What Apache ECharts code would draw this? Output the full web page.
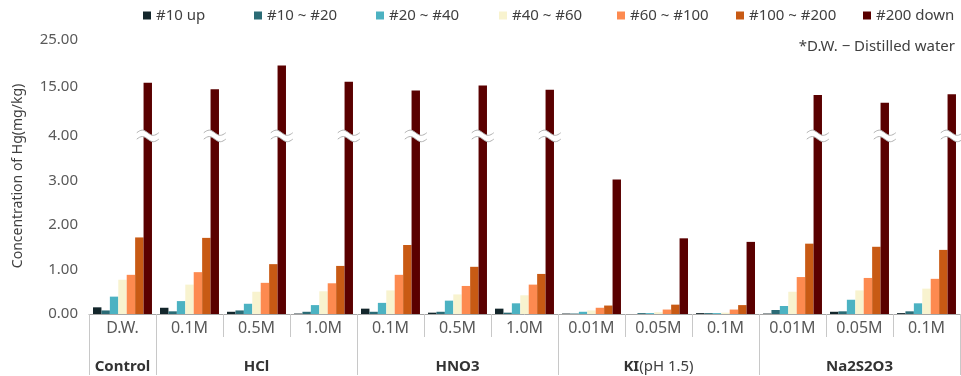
<!DOCTYPE html>
<html><head><meta charset="utf-8">
<script src="https://cdn.jsdelivr.net/npm/echarts@6/dist/echarts.min.js"></script>
<style>html,body{margin:0;padding:0;background:#fff}#c{width:961px;height:376px}</style>
</head><body><div id="c"></div>
<script>
// ---- data ----
const seriesNames = ['#10 up', '#10 ~ #20', '#20 ~ #40', '#40 ~ #60', '#60 ~ #100', '#100 ~ #200', '#200 down'];
const groups = ['Control', 'HCl', 'HNO3', 'KI(pH 1.5)', 'Na2S2O3'];
const groupSizes = [1, 3, 3, 3, 3];
const subLabels = ['D.W.', '0.1M', '0.5M', '1.0M', '0.1M', '0.5M', '1.0M', '0.01M', '0.05M', '0.1M', '0.01M', '0.05M', '0.1M'];
const up10    = [0.15, 0.14, 0.05, 0.01, 0.12, 0.03, 0.12, 0.01, 0.00, 0.02, 0.01, 0.05, 0.02];
const r10_20  = [0.08, 0.06, 0.08, 0.05, 0.05, 0.05, 0.03, 0.01, 0.02, 0.02, 0.09, 0.06, 0.06];
const r20_40  = [0.39, 0.29, 0.23, 0.20, 0.25, 0.30, 0.24, 0.05, 0.02, 0.02, 0.18, 0.32, 0.24];
const r40_60  = [0.77, 0.66, 0.50, 0.51, 0.53, 0.44, 0.42, 0.08, 0.04, 0.03, 0.50, 0.53, 0.57];
const r60_100 = [0.88, 0.94, 0.70, 0.69, 0.88, 0.63, 0.66, 0.14, 0.10, 0.10, 0.83, 0.81, 0.79];
const r100_200= [1.72, 1.71, 1.12, 1.08, 1.55, 1.06, 0.90, 0.19, 0.21, 0.20, 1.58, 1.51, 1.44];
const down200 = [15.8, 14.4, 19.5, 16.0, 14.1, 15.2, 14.3, 3.02, 1.70, 1.62, 13.1, 11.4, 13.3];
const yTicks = [0, 1, 2, 3, 4, 15, 25];

// ---- styles / layout ----
const colors = ['#13262b', '#2b6b75', '#4cb2c2', '#f8f3cf', '#fd8a50', '#c85a14', '#5a0000'];
const legendLefts = [143, 254, 376, 499, 617, 736, 863];
const FONT = 'Noto Sans';
const allSeries = [up10, r10_20, r20_40, r40_60, r60_100, r100_200, down200];

// broken axis: 0-4 linear, 4-15 compressed, 15-25 compressed
const D15 = 5.11, D25 = 6.16;
function toDisplay(v) {
  if (v <= 4) return v;
  if (v < 15) return 4 + (v - 4) / 11 * (D15 - 4);
  return D15 + (v - 15) / 10 * (D25 - D15);
}
const catKeys = subLabels.map((s, i) => i + ':' + s);
const groupStart = [], groupMid = {};
let acc = 0;
groupSizes.forEach((n, g) => { groupStart.push(acc); groupMid[acc + Math.floor(n / 2)] = groups[g]; acc += n; });

const chart = echarts.init(document.getElementById('c'), null, {renderer: 'canvas'});
const CAT_GAP = 0.12;

const barSeries = allSeries.map((arr, k) => ({
  name: seriesNames[k], type: 'bar', xAxisIndex: 0,
  data: arr.map(toDisplay),
  barGap: '0%', barCategoryGap: (CAT_GAP * 100) + '%',
  itemStyle: {color: colors[k]},
  emphasis: {disabled: true}
}));

const breakSeries = {
  type: 'custom', xAxisIndex: 0, z: 10, silent: true,
  data: down200.map((v, i) => [i, v]),
  renderItem: function (params, api) {
    const v = api.value(1);
    if (v <= 4) return null;
    const c = api.coord([api.value(0), 4]);
    const band = api.size([1, 0])[0];
    const bw = band * (1 - CAT_GAP) / 7;
    const cx = c[0] + 3 * bw;
    const cy = c[1];
    const hw = 11, A = 2.6, off = 3.2, N = 16;
    const top = [], bot = [];
    for (let j = 0; j <= N; j++) {
      const t = j / N;
      const x = cx - hw + 2 * hw * t;
      const dy = -A * Math.sin(2 * Math.PI * t);
      top.push([x, cy - off + dy]);
      bot.push([x, cy + off + dy]);
    }
    return {
      type: 'group',
      children: [
        {type: 'polygon', shape: {points: top.concat(bot.slice().reverse())}, style: {fill: '#ffffff'}},
        {type: 'polyline', shape: {points: top}, style: {stroke: '#b0b0b0', lineWidth: 1, fill: null}},
        {type: 'polyline', shape: {points: bot}, style: {stroke: '#b0b0b0', lineWidth: 1, fill: null}}
      ]
    };
  }
};

const option = {
  animation: false,
  textStyle: {fontFamily: FONT},
  title: {
    text: '*D.W. \u2212 Distilled water', right: 6, top: 39, padding: 0,
    textStyle: {fontSize: 15, fontWeight: 'normal', color: '#404040', fontFamily: FONT}
  },
  legend: seriesNames.map((n, k) => ({
    data: [n], left: legendLefts[k], top: 8, padding: 0,
    itemWidth: 8, itemHeight: 8, icon: 'rect', selectedMode: false,
    textStyle: {fontSize: 15, color: '#404040', fontFamily: FONT}
  })),
  grid: {left: 89, right: 1, top: 38, bottom: 62},
  xAxis: [
    {
      type: 'category', data: catKeys, position: 'bottom',
      axisLine: {show: true, lineStyle: {color: '#a6a6a6', width: 1}},
      axisTick: {show: true, length: 23, lineStyle: {color: '#c8c8c8', width: 1}},
      axisLabel: {show: true, interval: 0, formatter: (v, i) => subLabels[i], color: '#595959', fontSize: 16, margin: 6, fontFamily: FONT}
    },
    {
      type: 'category', data: catKeys, position: 'bottom',
      axisLine: {show: false},
      axisTick: {show: true, length: 61, interval: (i) => groupStart.indexOf(i) >= 0, lineStyle: {color: '#c8c8c8', width: 1}},
      axisLabel: {
        show: true, interval: 0, margin: 45, fontFamily: FONT,
        formatter: (v, i) => {
          const g = groupMid[i];
          if (!g) return '';
          const m = g.match(/^([^(]+)(\(.*\))$/);
          return m ? '{b|' + m[1] + '}{n|' + m[2] + '}' : '{b|' + g + '}';
        },
        rich: {
          b: {fontSize: 15, fontWeight: 'bold', color: '#333333', fontFamily: FONT},
          n: {fontSize: 15, color: '#404040', fontFamily: FONT}
        }
      }
    }
  ],
  yAxis: {
    type: 'value', min: 0, max: 6.2,
    axisLine: {show: false}, axisTick: {show: false}, splitLine: {show: false},
    axisLabel: {
      customValues: yTicks.map(toDisplay),
      formatter: (v) => {
        let best = 0, bd = 1e9;
        yTicks.forEach((t, i) => { const d = Math.abs(toDisplay(t) - v); if (d < bd) { bd = d; best = i; } });
        return yTicks[best].toFixed(2);
      },
      color: '#595959', fontSize: 15, margin: 11, fontFamily: FONT
    },
    name: 'Concentration of Hg(mg/kg)', nameLocation: 'middle', nameGap: 64,
    nameTextStyle: {fontSize: 14, color: '#404040', fontFamily: FONT}
  },
  series: barSeries.concat([breakSeries])
};
chart.setOption(option);
</script>
</body></html>
